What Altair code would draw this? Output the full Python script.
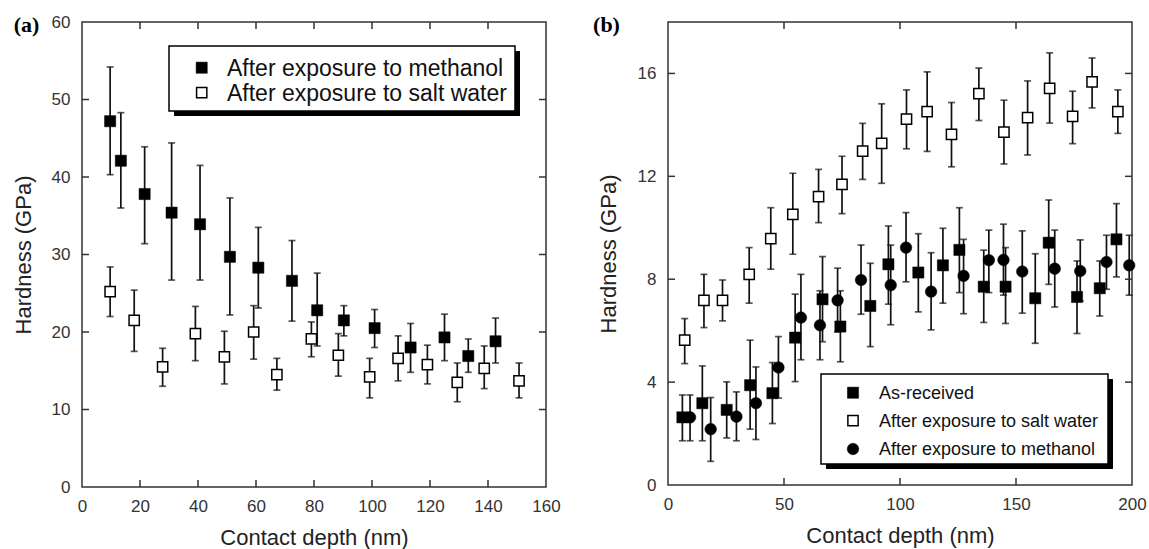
import altair as alt
import pandas as pd

# ---------------- panel (a) data ----------------
A_METH_X = [9.7, 13.4, 21.6, 30.9, 40.7, 51.0, 60.8, 72.4, 81.1, 90.3, 100.9, 113.3, 125.0, 133.2, 142.6]
A_METH_Y = [47.2, 42.1, 37.8, 35.4, 33.9, 29.7, 28.3, 26.6, 22.8, 21.5, 20.5, 18.0, 19.3, 16.9, 18.8]
A_METH_HI = [54.2, 48.3, 43.9, 44.4, 41.5, 37.3, 33.5, 31.8, 27.6, 23.4, 22.9, 21.1, 22.3, 19.1, 21.8]
A_METH_LO = [40.3, 36.0, 31.4, 26.7, 26.7, 22.2, 23.1, 21.4, 18.2, 19.5, 18.0, 14.8, 16.3, 14.8, 16.0]

A_SALT_X = [9.7, 18.0, 27.8, 39.1, 49.1, 59.2, 67.2, 79.1, 88.4, 99.2, 109.0, 119.1, 129.4, 138.7, 150.7]
A_SALT_Y = [25.2, 21.5, 15.5, 19.8, 16.8, 20.0, 14.5, 19.1, 17.0, 14.2, 16.6, 15.8, 13.5, 15.3, 13.7]
A_SALT_HI = [28.4, 25.4, 17.9, 23.3, 20.1, 23.4, 16.6, 21.3, 19.8, 16.6, 19.5, 18.3, 16.0, 18.2, 16.0]
A_SALT_LO = [22.0, 17.5, 13.0, 16.3, 13.3, 16.5, 12.5, 16.8, 14.3, 11.5, 13.7, 13.3, 11.0, 12.7, 11.5]

# ---------------- panel (b) data ----------------
B_ASR_X = [6.2, 14.8, 25.3, 35.4, 45.0, 54.8, 66.6, 74.3, 87.2, 95.0, 107.9, 118.5, 125.6, 136.1, 145.5, 158.3, 164.1, 176.3, 186.1, 193.3]
B_ASR_Y = [2.63, 3.18, 2.92, 3.88, 3.57, 5.73, 7.22, 6.16, 6.96, 8.58, 8.26, 8.54, 9.14, 7.71, 7.71, 7.26, 9.42, 7.31, 7.65, 9.55]
B_ASR_HI = [3.5, 4.63, 4.01, 5.63, 4.76, 7.42, 8.88, 7.55, 8.62, 10.07, 9.77, 9.98, 10.78, 9.13, 9.23, 8.99, 11.08, 8.71, 8.71, 10.94]
B_ASR_LO = [1.72, 1.72, 1.83, 2.17, 2.39, 4.02, 5.57, 4.79, 5.38, 7.03, 6.73, 7.07, 7.48, 6.32, 6.28, 5.51, 7.8, 5.89, 6.57, 8.09]

B_SALT_X = [7.2, 15.5, 23.5, 35.0, 44.3, 53.8, 64.9, 75.0, 83.9, 92.1, 102.8, 111.7, 122.2, 134.0, 144.8, 155.0, 164.5, 174.4, 182.8, 193.9]
B_SALT_Y = [5.63, 7.18, 7.18, 8.19, 9.58, 10.52, 11.21, 11.69, 12.98, 13.28, 14.22, 14.52, 13.63, 15.22, 13.72, 14.28, 15.42, 14.33, 15.67, 14.52]
B_SALT_HI = [6.47, 8.19, 7.97, 9.23, 10.78, 12.12, 12.27, 12.78, 14.06, 14.82, 15.36, 16.06, 14.87, 16.21, 14.96, 15.71, 16.8, 15.31, 16.6, 15.36]
B_SALT_LO = [4.72, 6.12, 6.38, 7.07, 8.39, 8.97, 10.2, 10.55, 11.88, 11.73, 13.07, 12.97, 12.37, 14.17, 12.48, 12.83, 14.07, 13.27, 14.66, 13.67]

B_METH_X = [9.5, 18.4, 29.5, 37.9, 47.6, 57.3, 65.5, 73.1, 83.2, 96.0, 102.6, 113.4, 127.4, 138.3, 144.6, 152.7, 166.7, 177.7, 189.0, 198.8]
B_METH_Y = [2.63, 2.17, 2.66, 3.18, 4.57, 6.51, 6.21, 7.18, 7.97, 7.77, 9.23, 7.52, 8.13, 8.74, 8.75, 8.30, 8.41, 8.32, 8.67, 8.54]
B_METH_HI = [3.5, 3.4, 3.62, 4.59, 5.77, 8.19, 7.55, 8.43, 9.33, 9.33, 10.59, 9.03, 9.55, 9.91, 10.14, 9.88, 9.91, 9.53, 9.71, 9.71]
B_METH_LO = [1.72, 0.92, 1.72, 1.77, 3.38, 4.87, 4.87, 5.95, 6.64, 6.23, 7.9, 6.03, 6.66, 7.48, 7.38, 6.68, 6.92, 7.16, 7.61, 7.38]

# ---------------- axis ticks / labels ----------------
A_X_LABELS = [0, 20, 40, 60, 80, 100, 120, 140, 160]
A_Y_LABELS = [0, 10, 20, 30, 40, 50, 60]
A_X_INNER = [20, 40, 60, 80, 100, 120, 140]
A_Y_INNER = [10, 20, 30, 40, 50]
B_X_LABELS = [0, 50, 100, 150, 200]
B_Y_LABELS = [0, 4, 8, 12, 16]
B_X_INNER = [50, 100, 150]
B_Y_INNER = [4, 8, 12, 16]

A_LEGEND = ["After exposure to methanol", "After exposure to salt water"]
B_LEGEND = ["As-received", "After exposure to salt water", "After exposure to methanol"]

FONT = "Liberation Sans"
INK = "#111111"
FRAME = "#333333"

STYLES = {
    "filled_square": dict(shape="square", filled=True, fill="black", stroke="black", strokeWidth=0.5, size=125, opacity=1),
    "open_square": dict(shape="square", filled=True, fill="white", stroke="black", strokeWidth=1.5, size=105, opacity=1),
    "circle": dict(shape="circle", filled=True, fill="black", stroke="black", strokeWidth=0.5, size=135, opacity=1),
}


def one(label):
    return pd.DataFrame({"label": [label]})


def panel(series, xdom, ydom, xlabels, ylabels, xinner, yinner, W, H,
          ytitle_pad, legend_box, legend_items, legend_font, tag, tag_x):
    xs = alt.Scale(domain=xdom, nice=False, zero=False)
    ys = alt.Scale(domain=ydom, nice=False, zero=False)
    x_axis = alt.Axis(values=xlabels, title="Contact depth (nm)", titlePadding=13,
                      labelPadding=11, labelFlush=False)
    y_axis = alt.Axis(values=ylabels, title="Hardness (GPa)", titlePadding=ytitle_pad,
                      labelPadding=12, labelFlush=False)

    def X(f):
        return alt.X(f, scale=xs, axis=x_axis)

    def Y(f):
        return alt.Y(f, scale=ys, axis=y_axis)

    bars, caps, pts = [], [], []
    for (x, y, lo, hi, style) in series:
        df = pd.DataFrame({"x": x, "y": y, "lo": lo, "hi": hi})
        base = alt.Chart(df)
        bars.append(base.mark_rule(color=INK, strokeWidth=1.7).encode(
            x=X("x:Q"), y=Y("lo:Q"), y2="hi:Q"))
        for fld in ("lo", "hi"):
            caps.append(base.mark_tick(color=INK, orient="horizontal", size=7, thickness=1.7).encode(
                x=X("x:Q"), y=Y(f"{fld}:Q")))
        pts.append(base.mark_point(**STYLES[style]).encode(x=X("x:Q"), y=Y("y:Q")))

    xi = alt.Chart(pd.DataFrame({"v": xinner}))
    yi = alt.Chart(pd.DataFrame({"v": yinner}))
    TL = 7
    ticks = [
        xi.mark_rule(color=FRAME, strokeWidth=1.5).encode(
            x=X("v:Q"), y=alt.value(H), y2=alt.value(H - TL)),
        xi.mark_rule(color=FRAME, strokeWidth=1.5).encode(
            x=X("v:Q"), y=alt.value(0), y2=alt.value(TL)),
        yi.mark_rule(color=FRAME, strokeWidth=1.5).encode(
            y=Y("v:Q"), x=alt.value(0), x2=alt.value(TL)),
        yi.mark_rule(color=FRAME, strokeWidth=1.5).encode(
            y=Y("v:Q"), x=alt.value(W - TL), x2=alt.value(W)),
    ]

    bx0, by0, bx1, by1 = legend_box
    leg = [
        alt.Chart(one("shadow")).mark_rect(color="black").encode(
            x=alt.value(bx0 + 5), x2=alt.value(bx1 + 5), y=alt.value(by0 + 5), y2=alt.value(by1 + 5)),
        alt.Chart(one("box")).mark_rect(fill="white", stroke="black", strokeWidth=1.5).encode(
            x=alt.value(bx0), x2=alt.value(bx1), y=alt.value(by0), y2=alt.value(by1)),
    ]
    for (label, style, sx, sy, tx) in legend_items:
        st = dict(STYLES[style])
        leg.append(alt.Chart(one(label)).mark_point(**st).encode(x=alt.value(sx), y=alt.value(sy)))
        leg.append(alt.Chart(one(label)).mark_text(
            align="left", baseline="middle", font=FONT, fontSize=legend_font, color=INK).encode(
            x=alt.value(tx), y=alt.value(sy + 1), text="label:N"))

    tag_layer = alt.Chart(one(tag)).mark_text(
        align="center", baseline="middle", font="Liberation Serif", fontWeight="bold",
        fontSize=22, color="black").encode(x=alt.value(tag_x), y=alt.value(3), text="label:N")

    return alt.layer(*bars, *caps, *ticks, *pts, *leg, tag_layer).properties(width=W, height=H)


panel_a = panel(
    [(A_METH_X, A_METH_Y, A_METH_LO, A_METH_HI, "filled_square"),
     (A_SALT_X, A_SALT_Y, A_SALT_LO, A_SALT_HI, "open_square")],
    [0, 160], [0, 60], A_X_LABELS, A_Y_LABELS, A_X_INNER, A_Y_INNER, 464, 465,
    15.5, (87, 24, 433, 89),
    [(A_LEGEND[0], "filled_square", 119.7, 45.7, 145),
     (A_LEGEND[1], "open_square", 119.7, 70.7, 145)],
    23, "(a)", -55.5)

panel_b = panel(
    [(B_ASR_X, B_ASR_Y, B_ASR_LO, B_ASR_HI, "filled_square"),
     (B_METH_X, B_METH_Y, B_METH_LO, B_METH_HI, "circle"),
     (B_SALT_X, B_SALT_Y, B_SALT_LO, B_SALT_HI, "open_square")],
    [0, 200], [0, 18], B_X_LABELS, B_Y_LABELS, B_X_INNER, B_Y_INNER, 464, 463,
    16.3, (153, 352, 440, 442),
    [(B_LEGEND[0], "filled_square", 185, 370.7, 211),
     (B_LEGEND[1], "open_square", 185, 398.7, 211),
     (B_LEGEND[2], "circle", 185, 427, 211)],
    18, "(b)", -61.5)

chart = alt.hconcat(panel_a, panel_b, spacing=31).properties(
    padding={"left": 11, "top": 12, "right": 2, "bottom": 2},
    background="white",
).configure_view(
    stroke=FRAME, strokeWidth=1.5
).configure_axis(
    domain=False, ticks=False, grid=False,
    labelFont=FONT, labelFontSize=17, labelColor="#333333",
    titleFont=FONT, titleFontSize=22, titleFontWeight="normal", titleColor="#222222",
)

chart.save("out.html", embed_options={"renderer": "svg", "actions": False})
